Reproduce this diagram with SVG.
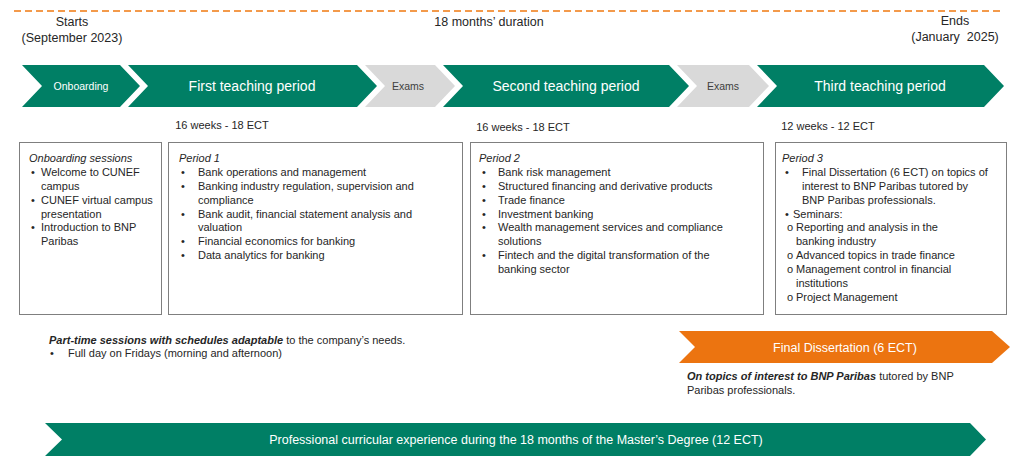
<svg xmlns="http://www.w3.org/2000/svg" width="1024" height="465" viewBox="0 0 1024 465">
<style>
text{font-family:"Liberation Sans",Arial,sans-serif;fill:#262626}
.top{font-size:12.5px;text-anchor:middle}
.green{fill:#007F65}
.gray{fill:#D9D9D9}
.wt{fill:#ffffff;text-anchor:middle}
.big{font-size:14px}
.small{font-size:10.5px}
.ex{fill:#404040;font-size:10.5px;text-anchor:middle}
.wk{font-size:11px;text-anchor:middle}
.box{fill:#ffffff;stroke:#7F7F7F;stroke-width:1}
.bt{font-size:11px}
.it{font-style:italic}
.bi{font-style:italic;font-weight:bold}
</style>
<g id="timeline">
<line x1="14" y1="11" x2="1004" y2="11" stroke="#F39A4B" stroke-width="2" stroke-dasharray="7 4"/>
<text class="top" x="72" y="26">Starts</text>
<text class="top" x="72" y="42">(September 2023)</text>
<text class="top" x="489" y="26">18 months’ duration</text>
<text class="top" x="955" y="25">Ends</text>
<text class="top" x="955" y="41" xml:space="preserve">(January  2025)</text>
</g>
<g id="connectors"></g>
<g id="onboarding-chevron">
<path class="green" d="M22,65 L120,65 L140,86 L120,107 L22,107 L42,86 Z"/>
<text class="wt small" x="81" y="90">Onboarding</text>
</g>
<g id="first-period-chevron">
<path class="green" d="M128,65 L357,65 L377,86 L357,107 L128,107 L148,86 Z"/>
<text class="wt big" x="252" y="91">First teaching period</text>
<text class="wk" x="222" y="129">16 weeks - 18 ECT</text>
</g>
<g id="exams-1">
<path class="gray" d="M365,65 L435,65 L455,86 L435,107 L365,107 L385,86 Z"/>
<text class="ex" x="408" y="90">Exams</text>
</g>
<g id="second-period-chevron">
<path class="green" d="M443,65 L669,65 L689,86 L669,107 L443,107 L463,86 Z"/>
<text class="wt big" x="566" y="91">Second teaching period</text>
<text class="wk" x="523" y="131">16 weeks - 18 ECT</text>
</g>
<g id="exams-2">
<path class="gray" d="M677,65 L749,65 L769,86 L749,107 L677,107 L697,86 Z"/>
<text class="ex" x="723" y="90">Exams</text>
</g>
<g id="third-period-chevron">
<path class="green" d="M757,65 L984,65 L1004,86 L984,107 L757,107 L777,86 Z"/>
<text class="wt big" x="880" y="91">Third teaching period</text>
<text class="wk" x="828" y="130">12 weeks - 12 ECT</text>
</g>
<g id="box-onboarding" class="bt">
<rect class="box" x="19.5" y="142.5" width="142" height="172"/>
<text class="bt it" x="29" y="162">Onboarding sessions</text>
<text class="bt" x="31" y="176">•</text><text class="bt" x="41" y="176">Welcome to CUNEF</text>
<text class="bt" x="41" y="190">campus</text>
<text class="bt" x="31" y="203.5">•</text><text class="bt" x="41" y="203.5">CUNEF virtual campus</text>
<text class="bt" x="41" y="217.5">presentation</text>
<text class="bt" x="31" y="231">•</text><text class="bt" x="41" y="231">Introduction to BNP</text>
<text class="bt" x="41" y="245">Paribas</text>
</g>
<g id="box-period-1">
<rect class="box" x="168.5" y="142.5" width="294" height="172"/>
<text class="bt it" x="179" y="162">Period 1</text>
<text class="bt" x="181" y="176">•</text><text class="bt" x="198" y="176">Bank operations and management</text>
<text class="bt" x="181" y="190">•</text><text class="bt" x="198" y="190">Banking industry regulation, supervision and</text>
<text class="bt" x="198" y="203.5">compliance</text>
<text class="bt" x="181" y="217.5">•</text><text class="bt" x="198" y="217.5">Bank audit, financial statement analysis and</text>
<text class="bt" x="198" y="231">valuation</text>
<text class="bt" x="181" y="245">•</text><text class="bt" x="198" y="245">Financial economics for banking</text>
<text class="bt" x="181" y="259">•</text><text class="bt" x="198" y="259">Data analytics for banking</text>
</g>
<g id="box-period-2">
<rect class="box" x="470.5" y="142.5" width="293" height="172"/>
<text class="bt it" x="479" y="162">Period 2</text>
<text class="bt" x="482" y="176">•</text><text class="bt" x="498" y="176">Bank risk management</text>
<text class="bt" x="482" y="190">•</text><text class="bt" x="498" y="190">Structured financing and derivative products</text>
<text class="bt" x="482" y="203.5">•</text><text class="bt" x="498" y="203.5">Trade finance</text>
<text class="bt" x="482" y="217.5">•</text><text class="bt" x="498" y="217.5">Investment banking</text>
<text class="bt" x="482" y="231">•</text><text class="bt" x="498" y="231">Wealth management services and compliance</text>
<text class="bt" x="498" y="245">solutions</text>
<text class="bt" x="482" y="259">•</text><text class="bt" x="498" y="259">Fintech and the digital transformation of the</text>
<text class="bt" x="498" y="273">banking sector</text>
</g>
<g id="box-period-3">
<rect class="box" x="775.5" y="142.5" width="231" height="172"/>
<text class="bt it" x="782" y="162">Period 3</text>
<text class="bt" x="785" y="176">•</text><text class="bt" x="802" y="176">Final Dissertation (6 ECT) on topics of</text>
<text class="bt" x="802" y="190">interest to BNP Paribas tutored by</text>
<text class="bt" x="802" y="203.5">BNP Paribas professionals.</text>
<text class="bt" x="785" y="217.5">•</text><text class="bt" x="793" y="217.5">Seminars:</text>
<text class="bt" x="787" y="231">o</text><text class="bt" x="796" y="231">Reporting and analysis in the</text>
<text class="bt" x="796" y="245">banking industry</text>
<text class="bt" x="787" y="259">o</text><text class="bt" x="796" y="259">Advanced topics in trade finance</text>
<text class="bt" x="787" y="273">o</text><text class="bt" x="796" y="273">Management control in financial</text>
<text class="bt" x="796" y="286.5">institutions</text>
<text class="bt" x="787" y="300.5">o</text><text class="bt" x="796" y="300.5">Project Management</text>
</g>
<g id="part-time-note">
<text class="bt" x="49" y="344"><tspan class="bi">Part-time sessions with schedules adaptable</tspan> to the company’s needs.</text>
<text class="bt" x="50" y="357">•</text><text class="bt" x="68" y="357">Full day on Fridays (morning and afternoon)</text>
</g>
<g id="final-dissertation">
<path fill="#EC7410" d="M679,331 L992,331 L1010,347 L992,363 L679,363 L695,347 Z"/>
<text class="wt" style="font-size:12.5px" x="845" y="351.5">Final Dissertation (6 ECT)</text>
<text class="bt" x="687" y="380"><tspan class="bi">On topics of interest to BNP Paribas</tspan> tutored by BNP</text>
<text class="bt" x="687" y="394">Paribas professionals.</text>
</g>
<g id="professional-experience">
<path class="green" d="M45,423 L970,423 L986,439.5 L970,456 L45,456 L62,439.5 Z"/>
<text class="wt" style="font-size:12.5px" x="516" y="444">Professional curricular experience during the 18 months of the Master’s Degree (12 ECT)</text>
</g>
</svg>
